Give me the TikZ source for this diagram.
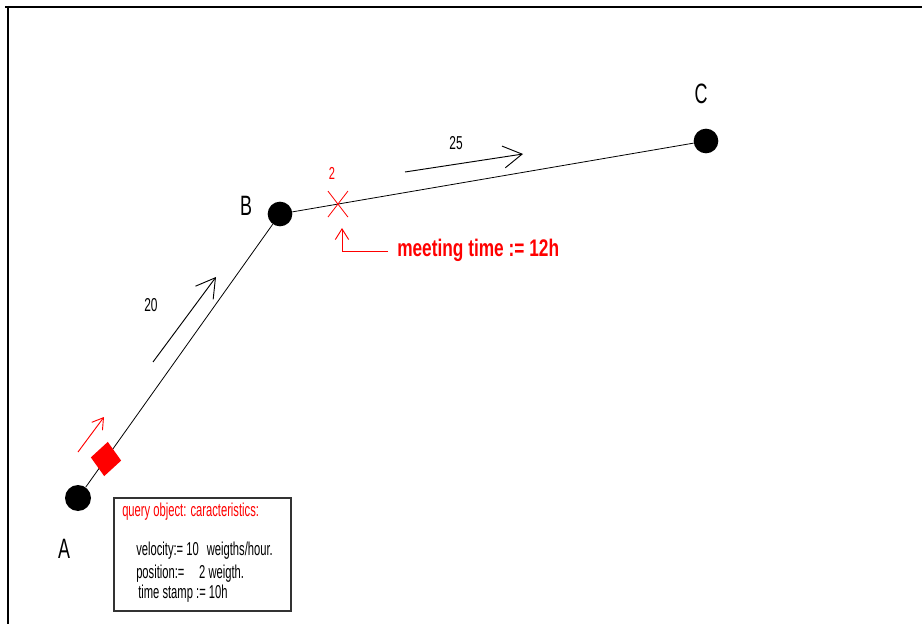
\documentclass[tikz,border=0pt]{standalone}
\usepackage{fontspec}
\usepackage{tikz}
\usetikzlibrary{arrows.meta,positioning,calc,shapes.geometric}
\newfontfamily\narrowfont[FakeStretch=0.64]{Liberation Sans}
\newfontfamily\boxfont[FakeStretch=0.6]{Liberation Sans}
\newfontfamily\meetfont[FakeStretch=0.72]{Liberation Sans Bold}
\definecolor{MarkRed}{HTML}{FF0000}
\definecolor{BoxGray}{HTML}{333333}

\begin{document}
\begin{tikzpicture}[x=0.75pt,y=-0.75pt,
  station/.style={circle,fill=black,inner sep=0pt,minimum size=18.5pt},
  stationname/.style={font=\narrowfont\fontsize{21}{23}\selectfont,inner sep=0pt},
  lengthlabel/.style={font=\narrowfont\fontsize{14}{16}\selectfont,inner sep=0pt},
  infotext/.style={font=\boxfont\fontsize{14}{16}\selectfont,inner sep=0pt,anchor=base west},
  bigbarb/.style={-{Straight Barb[length=14pt,width=16.5pt]},line width=0.7pt},
  smallbarb/.style={-{Straight Barb[length=8pt,width=10pt]},line width=0.7pt}]
  \useasboundingbox (0,0) rectangle (922,624);
  \draw[line width=2pt] (5,7) -- (922,7);
  \draw[line width=2pt] (8,6) -- (8,624);
  % stations
  \node[station,minimum size=19.5pt] (A) at (78,498) {};
  \node[station] (B) at (280,214) {};
  \node[station] (C) at (706,141) {};
  \node[stationname] (nameA) at (64,549) {A};
  \node[stationname] (nameB) at (246,206) {B};
  \node[stationname] (nameC) at (701,94) {C};
  \draw[line width=0.6pt] (A) -- (B) -- (C);
  % lengths
  \node[lengthlabel] (lenAB) at (151,305) {20};
  \node[lengthlabel] (lenBC) at (456,143) {25};
  \coordinate (dirABs) at (153,362);
  \coordinate (dirABe) at (216,277);
  \coordinate (dirBCs) at (405,172);
  \coordinate (dirBCe) at (523,154);
  \draw[bigbarb] (dirABs) -- (dirABe);
  \draw[bigbarb] (dirBCs) -- (dirBCe);
  % query object
  \node[diamond,fill=MarkRed,inner sep=0pt,minimum width=23pt,minimum height=26pt,rotate=-6] (qobj) at (106,459) {};
  \coordinate (movs) at (78,452);
  \coordinate (move) at (104,417);
  \draw[MarkRed,smallbarb] (movs) -- (move);
  % meeting point
  \coordinate (meet) at ($(B)!0.136!(C)$);
  \draw[MarkRed,line width=0.6pt] ($(meet)+(-10,-13)$) -- ($(meet)+(10,13)$);
  \draw[MarkRed,line width=0.6pt] ($(meet)+(10,-13)$) -- ($(meet)+(-10,13)$);
  \node[inner sep=0pt,text=MarkRed,font=\narrowfont\fontsize{13}{15}\selectfont] (meetpos) at (332,173) {2};
  \node[anchor=base west,inner sep=0pt,text=MarkRed,font=\meetfont\fontsize{18}{20}\selectfont] (meettime) at (397,256.5) {meeting time := 12h};
  \coordinate (meetline) at (388,251);
  \coordinate (meettip) at (342,228);
  \draw[MarkRed,smallbarb] (meetline) -| (meettip);
  % characteristics box
  \node[draw=BoxGray,line width=0.9pt,minimum width=132.75pt,minimum height=84.75pt,inner sep=0pt] (info) at (202.5,554.5) {};
  \node[infotext,text=MarkRed] (infotitle) at (122,516.5) {query object: caracteristics:};
  \node[infotext] (infovel) at (136,555) {velocity:= 10\hspace{6pt}weigths/hour.};
  \node[infotext] (infopos) at (136,578) {position:=\hspace{11pt}2 weigth.};
  \node[infotext] (infotime) at (138,598) {time stamp := 10h};
\end{tikzpicture}
\end{document}
